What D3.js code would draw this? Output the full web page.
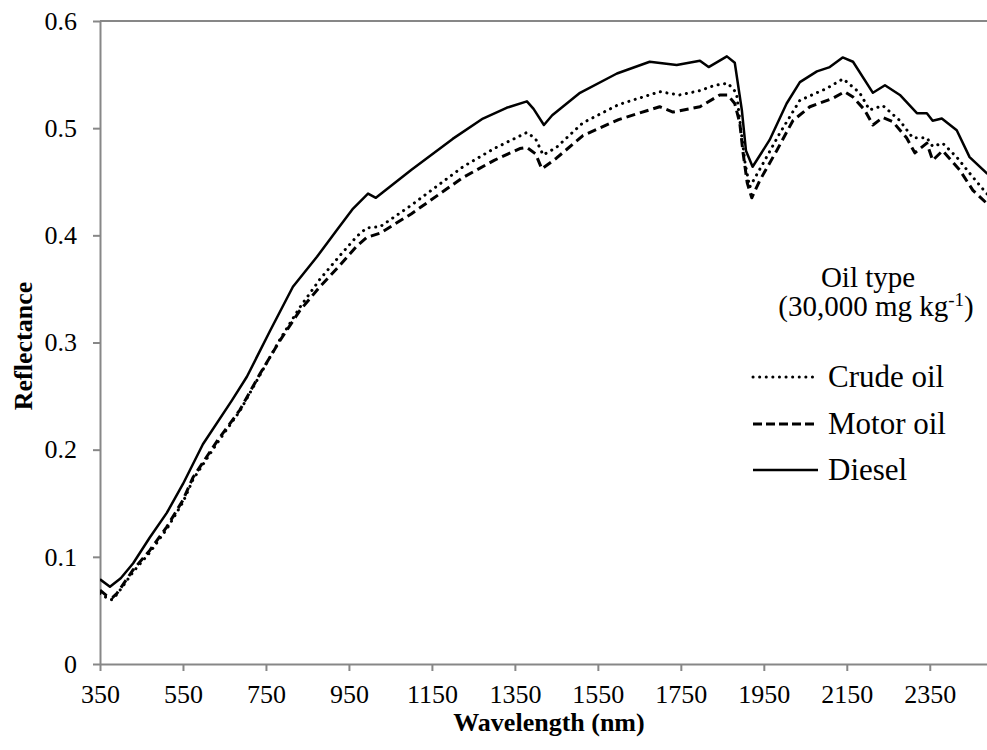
<!DOCTYPE html>
<html>
<head>
<meta charset="utf-8">
<script src="https://cdn.jsdelivr.net/npm/d3@7"></script>
<style>
  html, body { margin: 0; padding: 0; background: #fff; }
  svg { display: block; }
</style>
</head>
<body>
<svg id="chart" width="987" height="750"></svg>
<script>
// Reflectance spectra of soil with 30,000 mg/kg of each oil type: [wavelength nm, reflectance]
const crudeOil = [[350,0.066],[365,0.062],[378,0.060],[391,0.065],[430,0.086],[470,0.104],[511,0.126],[550,0.151],[574,0.172],[634,0.207],[687,0.236],[736,0.270],[784,0.303],[832,0.333],[880,0.359],[928,0.381],[969,0.399],[993,0.407],[1025,0.408],[1100,0.428],[1225,0.464],[1300,0.481],[1379,0.496],[1400,0.490],[1418,0.475],[1450,0.482],[1514,0.505],[1600,0.522],[1699,0.534],[1747,0.531],[1796,0.535],[1832,0.540],[1863,0.542],[1884,0.533],[1897,0.492],[1905,0.467],[1916,0.445],[1948,0.467],[1988,0.495],[2037,0.526],[2101,0.537],[2141,0.546],[2181,0.533],[2205,0.517],[2237,0.521],[2278,0.507],[2309,0.491],[2343,0.491],[2357,0.483],[2381,0.486],[2415,0.473],[2446,0.458],[2487,0.439],[2500,0.436]];

const motorOil = [[350,0.069],[365,0.064],[380,0.062],[391,0.066],[430,0.088],[470,0.106],[511,0.128],[550,0.153],[574,0.174],[634,0.209],[687,0.237],[736,0.271],[784,0.302],[832,0.330],[880,0.352],[928,0.372],[969,0.390],[993,0.398],[1025,0.402],[1100,0.420],[1225,0.454],[1300,0.470],[1362,0.481],[1379,0.482],[1400,0.476],[1415,0.462],[1450,0.472],[1514,0.493],[1600,0.508],[1699,0.520],[1731,0.515],[1796,0.520],[1844,0.531],[1863,0.531],[1880,0.523],[1892,0.505],[1900,0.477],[1910,0.449],[1921,0.435],[1940,0.451],[1981,0.479],[2020,0.507],[2061,0.520],[2117,0.528],[2145,0.534],[2165,0.529],[2193,0.517],[2213,0.503],[2237,0.510],[2261,0.506],[2294,0.491],[2314,0.477],[2343,0.486],[2357,0.470],[2381,0.479],[2422,0.461],[2454,0.442],[2487,0.430],[2500,0.428]];

const diesel = [[350,0.079],[374,0.072],[400,0.080],[430,0.094],[470,0.118],[511,0.141],[550,0.168],[598,0.205],[668,0.246],[704,0.268],[760,0.311],[815,0.352],[873,0.380],[921,0.405],[960,0.425],[996,0.439],[1015,0.435],[1100,0.461],[1200,0.490],[1273,0.509],[1330,0.519],[1379,0.525],[1395,0.518],[1420,0.503],[1440,0.512],[1507,0.533],[1596,0.551],[1675,0.562],[1740,0.559],[1796,0.563],[1817,0.557],[1861,0.567],[1880,0.561],[1897,0.517],[1907,0.479],[1923,0.464],[1964,0.489],[2005,0.523],[2037,0.543],[2078,0.553],[2109,0.557],[2140,0.566],[2165,0.562],[2213,0.533],[2242,0.540],[2278,0.531],[2319,0.514],[2343,0.514],[2357,0.507],[2379,0.509],[2415,0.498],[2446,0.473],[2487,0.458],[2500,0.455]];

const xTicks = [350, 550, 750, 950, 1150, 1350, 1550, 1750, 1950, 2150, 2350];
const yTicks = [0, 0.1, 0.2, 0.3, 0.4, 0.5, 0.6];
const seriesNames = ["Crude oil", "Motor oil", "Diesel"];
const seriesData = [crudeOil, motorOil, diesel];
const seriesDash = ["0.1 6.5", "9 5", null];

const FONT = "Liberation Serif";
const svg = d3.select("#chart");
const plotLeft = 100, plotRight = 992, plotTop = 21, plotBottom = 664;
const axisColor = "#878787";

const x = d3.scaleLinear().domain([350, 2500]).range([plotLeft, plotRight]);
const y = d3.scaleLinear().domain([0, 0.6]).range([plotBottom, plotTop]);

// plot frame (top edge + axes)
svg.append("line").attr("x1", plotLeft).attr("x2", plotRight).attr("y1", plotTop).attr("y2", plotTop)
  .attr("stroke", axisColor).attr("stroke-width", 2);

const xAxis = svg.append("g").attr("transform", `translate(0,${plotBottom})`)
  .call(d3.axisBottom(x).tickValues(xTicks).tickFormat(d3.format("d")).tickSizeInner(7).tickSizeOuter(0).tickPadding(14));
const yAxis = svg.append("g").attr("transform", `translate(${plotLeft},0)`)
  .call(d3.axisLeft(y).tickValues(yTicks).tickFormat(d => d === 0 ? "0" : d3.format(".1f")(d)).tickSizeInner(7).tickSizeOuter(0).tickPadding(16));

[xAxis, yAxis].forEach(g => {
  g.attr("font-family", FONT).attr("font-size", 26);
  g.select(".domain").attr("stroke", axisColor).attr("stroke-width", 2);
  g.selectAll(".tick line").attr("stroke", axisColor).attr("stroke-width", 2);
  g.selectAll(".tick text").attr("fill", "#000").attr("font-family", FONT).attr("font-size", 26);
});

// axis titles
svg.append("text").attr("x", 549).attr("y", 731).attr("text-anchor", "middle")
  .attr("font-family", FONT).attr("font-size", 26).attr("font-weight", "bold").text("Wavelength (nm)");
svg.append("text").attr("transform", "translate(32,346) rotate(-90)").attr("text-anchor", "middle")
  .attr("font-family", FONT).attr("font-size", 26).attr("font-weight", "bold").text("Reflectance");

// spectra
svg.append("clipPath").attr("id", "plotClip").append("rect")
  .attr("x", plotLeft).attr("y", 0).attr("width", plotRight - plotLeft).attr("height", plotBottom);

const line = d3.line().x(d => x(d[0])).y(d => y(d[1]));
const plot = svg.append("g").attr("clip-path", "url(#plotClip)");
seriesData.forEach((data, i) => {
  plot.append("path").datum(data).attr("d", line)
    .attr("fill", "none").attr("stroke", "#000")
    .attr("stroke-width", i === 2 ? 2.5 : 3)
    .attr("stroke-linecap", i === 0 ? "round" : "butt")
    .attr("stroke-linejoin", "round")
    .attr("stroke-dasharray", seriesDash[i]);
});

// legend
const legend = svg.append("g").attr("font-family", FONT);
const title = legend.append("text").attr("text-anchor", "middle").attr("font-family", FONT).attr("font-size", 29);
title.append("tspan").attr("x", 868).attr("y", 287).text("Oil type");
const sub = title.append("tspan").attr("x", 876).attr("y", 316);
sub.append("tspan").text("(30,000 mg kg");
sub.append("tspan").attr("baseline-shift", "super").attr("font-size", 19).text("-1");
sub.append("tspan").text(")");

const legendY = [377, 424, 470];
seriesNames.forEach((name, i) => {
  legend.append("line").attr("x1", 753).attr("x2", 818).attr("y1", legendY[i]).attr("y2", legendY[i])
    .attr("stroke", "#000").attr("stroke-width", i === 2 ? 2.5 : 3)
    .attr("stroke-linecap", i === 0 ? "round" : "butt")
    .attr("stroke-dasharray", i === 1 ? "9 4" : seriesDash[i]);
  legend.append("text").attr("x", 828).attr("y", legendY[i]).attr("dy", "0.33em")
    .attr("font-family", FONT).attr("font-size", 31).text(name);
});
</script>
</body>
</html>
